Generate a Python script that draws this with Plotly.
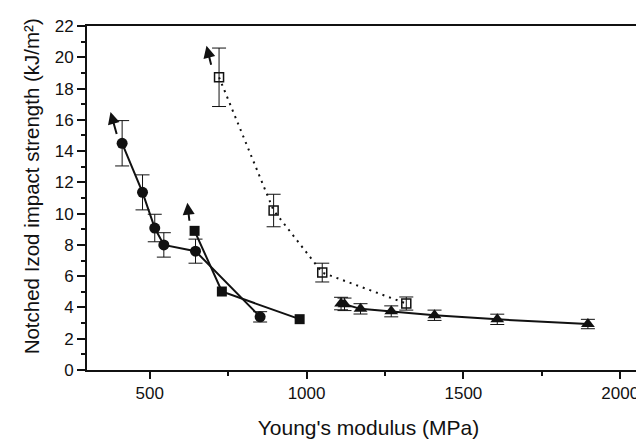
import plotly.graph_objects as go

# ---- data ----
circ_x = [412, 477, 516, 545, 646, 852]
circ_y = [14.5, 11.36, 9.08, 8.0, 7.6, 3.4]
circ_err = [1.45, 1.12, 0.88, 0.78, 0.77, 0.33]

fsq_x = [643, 730, 978]
fsq_y = [8.9, 5.02, 3.25]

osq_x = [721, 895, 1050, 1318]
osq_y = [18.72, 10.2, 6.23, 4.25]
osq_err = [1.87, 1.04, 0.6, 0.42]

tri_x = [1110, 1121, 1172, 1270, 1408, 1608, 1897]
tri_y = [4.25, 4.2, 3.91, 3.75, 3.5, 3.24, 2.94]
tri_err = [0.4, 0.4, 0.33, 0.35, 0.33, 0.33, 0.3]

# arrows (tail -> tip) in data units, showing values beyond the measured point
arrow_tail_x = [396, 627, 697]
arrow_tail_y = [15.0, 9.45, 19.42]
arrow_tip_x = [375, 620, 681]
arrow_tip_y = [16.5, 10.7, 20.73]

x_range = [300, 2095]
y_range = [0, 22]
x_title = "Young's modulus (MPa)"
y_title = "Notched Izod impact strength (kJ/m²)"

FONT = "Liberation Sans, Arial, sans-serif"
BLACK = "#111111"

fig = go.Figure()

def errs(vals):
    return dict(type="data", array=vals, visible=True, color=BLACK,
                thickness=1, width=7)

fig.add_trace(go.Scatter(
    x=osq_x, y=osq_y, mode="lines+markers",
    line=dict(color=BLACK, width=2, dash="2px,5px"),
    marker=dict(symbol="square-open", size=9, color=BLACK,
                line=dict(width=1.5, color=BLACK)),
    error_y=errs(osq_err), showlegend=False))

fig.add_trace(go.Scatter(
    x=circ_x, y=circ_y, mode="lines+markers",
    line=dict(color=BLACK, width=2),
    marker=dict(symbol="circle", size=11, color=BLACK),
    error_y=errs(circ_err), showlegend=False))

fig.add_trace(go.Scatter(
    x=fsq_x, y=fsq_y, mode="lines+markers",
    line=dict(color=BLACK, width=2),
    marker=dict(symbol="square", size=10, color=BLACK),
    showlegend=False))

fig.add_trace(go.Scatter(
    x=tri_x, y=tri_y, mode="lines+markers",
    line=dict(color=BLACK, width=2),
    marker=dict(symbol="triangle-up", size=12, color=BLACK),
    error_y=errs(tri_err), showlegend=False))

for tx, ty, hx, hy in zip(arrow_tail_x, arrow_tail_y, arrow_tip_x, arrow_tip_y):
    fig.add_annotation(x=hx, y=hy, ax=tx, ay=ty, xref="x", yref="y",
                       axref="x", ayref="y", showarrow=True, text="",
                       arrowhead=2, arrowsize=1.2, arrowwidth=2,
                       arrowcolor=BLACK)

# y-axis title placed as rotated text (slightly above the plot centre, as in the original)
fig.add_annotation(text=y_title, xref="paper", yref="paper", x=-0.097, y=0.535,
                   xanchor="center", yanchor="middle", textangle=-90,
                   showarrow=False,
                   font=dict(size=20.5, family=FONT, color=BLACK))

# faint right border like the scanned original
fig.add_shape(type="line", xref="paper", yref="paper", x0=1, x1=1, y0=0, y1=1,
              line=dict(color="#999999", width=1, dash="4px,3px"))

fig.update_layout(
    width=644, height=445,
    margin=dict(l=79, r=2, t=18, b=83),
    paper_bgcolor="white", plot_bgcolor="white",
    font=dict(family=FONT, color=BLACK),
    xaxis=dict(range=x_range, tickvals=[500, 1000, 1500, 2000],
               ticks="outside", ticklen=7, tickwidth=1.5, tickcolor=BLACK,
               showline=True, linecolor=BLACK, linewidth=2, mirror=True,
               showgrid=False, zeroline=False,
               minor=dict(tickvals=[750, 1250, 1750], ticks="outside",
                          ticklen=4, tickcolor=BLACK, showgrid=False),
               tickfont=dict(size=17, family=FONT, color=BLACK),
               title=dict(text=x_title, font=dict(size=21, family=FONT, color=BLACK),
                          standoff=18)),
    yaxis=dict(range=y_range, dtick=2, tick0=0,
               ticks="outside", ticklen=8, tickwidth=1.5, tickcolor=BLACK,
               showline=True, linecolor=BLACK, linewidth=2,
               showgrid=False, zeroline=False,
               minor=dict(dtick=1, ticks="outside", ticklen=4,
                          tickcolor=BLACK, showgrid=False),
               tickfont=dict(size=17, family=FONT, color=BLACK)),
)

fig.write_html("out.html")
